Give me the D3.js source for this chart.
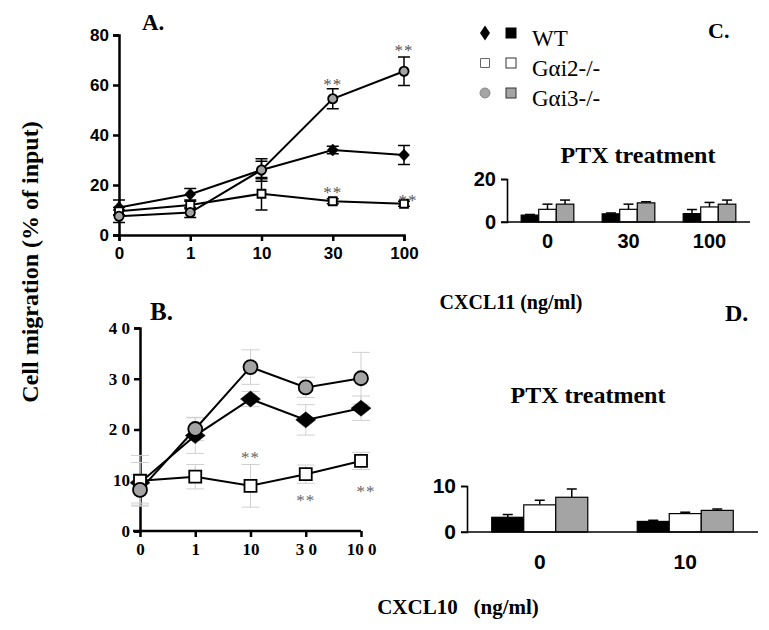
<!DOCTYPE html>
<html>
<head>
<meta charset="utf-8">
<script src="https://cdn.jsdelivr.net/npm/d3@7"></script>
<style>
  body { margin: 0; background: #fff; }
  svg { display: block; }
  .serif { font-family: "Liberation Serif", "DejaVu Serif", serif; font-weight: bold; }
  .sans { font-family: "Liberation Sans", Arial, sans-serif; font-weight: bold; }
</style>
</head>
<body>
<svg id="chart" width="769" height="630"></svg>
<script>
// ---- data ----
const doses = ["0", "1", "10", "30", "100"];
const genotypes = ["WT", "Gαi2-/-", "Gαi3-/-"];
const colors = ["#000000", "#ffffff", "#a4a4a4"];

// panel A: CXCL11
const aWT = [11, 16.3, 26, 34, 32];
const aWTErr = [3, 2.3, 3.5, 1.5, 3.8];
const aI2 = [9.5, 12, 16.5, 13.5, 12.5];
const aI2Err = [1.5, 1.5, 6.5, 1, 1];
const aI3 = [7.5, 9, 26, 54.5, 65.5];
const aI3Err = [2.5, 2, 4.5, 4, 5.7];
const aYTicks = [0, 20, 40, 60, 80];
const aStars = [{ dose: "30", v: 62 }, { dose: "100", v: 75.6 }, { dose: "30", v: 18.8 }, { dose: "100", v: 15.6, dx: 4 }];

// panel B: CXCL10
const bWT = [9.5, 18.8, 26, 21.9, 24.2];
const bWTErr = [4, 3.5, 1.5, 3, 2.4];
const bI2 = [9.9, 10.7, 8.9, 11.2, 13.8];
const bI2Err = [5, 2.4, 4.2, 1.8, 1.7];
const bI3 = [8.1, 20.1, 32.3, 28.3, 30.1];
const bI3Err = [3, 2.3, 3.4, 2, 5.1];
const bYTicks = [0, 10, 20, 30, 40];
const bYLabels = ["0", "10", "2 0", "3 0", "4 0"];
const bXLabels = ["0", "1", "10", "3 0", "10 0"];
const bStars = [{ dose: "10", v: 15.4 }, { dose: "30", v: 6.9 }, { dose: "100", v: 8.7, dx: 5 }];

// panel C: PTX, CXCL11
const cGroups = ["0", "30", "100"];
const cWT = [3.2, 3.8, 3.9];
const cWTErr = [0.3, 0.4, 1.9];
const cI2 = [5.9, 5.9, 7.0];
const cI2Err = [2.4, 2.4, 2.1];
const cI3 = [8.3, 8.9, 8.3];
const cI3Err = [1.9, 0.5, 1.9];

// panel D: PTX, CXCL10
const dGroups = ["0", "10"];
const dWT = [3.2, 2.3];
const dWTErr = [0.6, 0.25];
const dI2 = [5.9, 4.0];
const dI2Err = [1.0, 0.3];
const dI3 = [7.55, 4.7];
const dI3Err = [1.8, 0.3];

const svg = d3.select("#chart");

function diamond(w, h) {
  return `M0,${-h / 2}L${w / 2},0L0,${h / 2}L${-w / 2},0Z`;
}

// ---- line panels ----
function linePanel(opt) {
  const g = svg.append("g");
  const x = d3.scalePoint().domain(doses).range(opt.xRange);
  const y = d3.scaleLinear().domain(opt.yDomain).range(opt.yRange);

  const series = [
    { vals: opt.wt, err: opt.wtErr, shape: "diamond", fill: "#000" },
    { vals: opt.i2, err: opt.i2Err, shape: "square", fill: "#fff" },
    { vals: opt.i3, err: opt.i3Err, shape: "circle", fill: colors[2] }
  ];

  // axes
  const yAxis = g.append("g")
    .attr("transform", `translate(${opt.xRange[0]},0)`)
    .call(d3.axisLeft(y).tickValues(opt.yTicks).tickSize(6).tickPadding(4)
      .tickFormat((d, i) => opt.yLabels ? opt.yLabels[i] : d));
  const xAxis = g.append("g")
    .attr("transform", `translate(0,${opt.yRange[0]})`)
    .call(d3.axisBottom(x).tickSize(6).tickPadding(6)
      .tickFormat((d, i) => opt.xLabels ? opt.xLabels[i] : d));
  [xAxis, yAxis].forEach(a => {
    a.select(".domain").attr("stroke-width", 2.5).attr("stroke", "#000");
    a.selectAll(".tick line").attr("stroke-width", 2.5);
    a.selectAll("text").attr("class", opt.tickClass).attr("font-size", opt.tickSize).attr("fill", "#000");
  });
  if (opt.axisExt) {
    xAxis.select(".domain").attr("d", `M${opt.xRange[0] - opt.axisExt},0H${opt.xRange[1]}`);
  }

  // error bars
  series.forEach(s => {
    s.vals.forEach((v, i) => {
      const cx = x(doses[i]);
      const eg = g.append("g").attr("stroke", opt.errColor).attr("stroke-width", opt.errWidth);
      eg.append("line").attr("x1", cx).attr("x2", cx).attr("y1", y(v - s.err[i])).attr("y2", y(v + s.err[i]));
      [v - s.err[i], v + s.err[i]].forEach(e => {
        eg.append("line").attr("x1", cx - opt.cap).attr("x2", cx + opt.cap).attr("y1", y(e)).attr("y2", y(e));
      });
    });
  });

  // lines
  const line = d3.line().x((d, i) => x(doses[i])).y(d => y(d));
  series.forEach(s => {
    g.append("path").datum(s.vals).attr("d", line)
      .attr("fill", "none").attr("stroke", "#000").attr("stroke-width", 2);
  });

  // markers
  series.forEach(s => {
    g.selectAll(null).data(s.vals).join("path")
      .attr("transform", (d, i) => `translate(${x(doses[i])},${y(d)})`)
      .attr("d", () => {
        if (s.shape === "diamond") return diamond(opt.dia[0], opt.dia[1]);
        if (s.shape === "square") return d3.symbol(d3.symbolSquare, opt.sq * opt.sq)();
        return d3.symbol(d3.symbolCircle, Math.PI * opt.rad * opt.rad)();
      })
      .attr("fill", s.fill).attr("stroke", "#000").attr("stroke-width", s.shape === "diamond" ? 0.5 : 1.8);
  });

  // significance stars
  g.selectAll(null).data(opt.stars).join("text")
    .attr("x", d => x(d.dose) + (d.dx || 0))
    .attr("y", d => y(d.v))
    .attr("dy", "0.6em")
    .attr("text-anchor", "middle")
    .attr("font-family", "Liberation Serif, serif")
    .attr("font-size", 17)
    .attr("letter-spacing", 1)
    .attr("fill", opt.starColor)
    .text("**");
}

linePanel({
  xRange: [119, 404], yDomain: [0, 80], yRange: [235, 35],
  wt: aWT, wtErr: aWTErr, i2: aI2, i2Err: aI2Err, i3: aI3, i3Err: aI3Err,
  yTicks: aYTicks, tickClass: "sans", tickSize: 17,
  errColor: "#000", errWidth: 1.5, cap: 6,
  dia: [11, 12], sq: 8, rad: 4.6,
  stars: aStars, starColor: "#555"
});

linePanel({
  xRange: [140, 361], yDomain: [0, 40], yRange: [531, 328],
  wt: bWT, wtErr: bWTErr, i2: bI2, i2Err: bI2Err, i3: bI3, i3Err: bI3Err,
  yTicks: bYTicks, yLabels: bYLabels, xLabels: bXLabels, tickClass: "serif", tickSize: 17,
  errColor: "#d0d0d0", errWidth: 1, cap: 9, axisExt: 7,
  dia: [20, 16], sq: 12, rad: 7,
  stars: bStars, starColor: "#666"
});

// ---- bar panels ----
function barPanel(opt) {
  const g = svg.append("g");
  const x0 = d3.scaleBand().domain(opt.groups).range(opt.xRange).paddingInner(opt.pad).paddingOuter(opt.pad / 2);
  const x1 = d3.scaleBand().domain(genotypes).range([0, x0.bandwidth()]);
  const y = d3.scaleLinear().domain(opt.yDomain).range(opt.yRange);
  const rows = [[opt.wt, opt.wtErr], [opt.i2, opt.i2Err], [opt.i3, opt.i3Err]];

  opt.groups.forEach((grp, gi) => {
    genotypes.forEach((gen, si) => {
      const v = rows[si][0][gi], e = rows[si][1][gi];
      const bx = x0(grp) + x1(gen);
      const cx = bx + x1.bandwidth() / 2;
      g.append("line").attr("x1", cx).attr("x2", cx).attr("y1", y(v)).attr("y2", y(v + e))
        .attr("stroke", "#000").attr("stroke-width", 1.5);
      g.append("line").attr("x1", cx - opt.cap).attr("x2", cx + opt.cap).attr("y1", y(v + e)).attr("y2", y(v + e))
        .attr("stroke", "#000").attr("stroke-width", 1.5);
      g.append("rect").attr("x", bx).attr("y", y(v)).attr("width", x1.bandwidth()).attr("height", y(0) - y(v))
        .attr("fill", colors[si]).attr("stroke", "#000").attr("stroke-width", 1.2);
    });
  });

  const yAxis = g.append("g").attr("transform", `translate(${opt.xRange[0]},0)`)
    .call(d3.axisLeft(y).tickValues(opt.yTicks).tickSize(6).tickPadding(5));
  const xAxis = g.append("g").attr("transform", `translate(0,${opt.yRange[0]})`)
    .call(d3.axisBottom(x0).tickSize(0).tickPadding(opt.xPad));
  xAxis.select(".domain").attr("d", `M${opt.xRange[0] - 6},0H${opt.xRange[1]}`);
  [xAxis, yAxis].forEach(a => {
    a.select(".domain").attr("stroke-width", 1.6).attr("stroke", "#000");
    a.selectAll(".tick line").attr("stroke-width", 1.6);
    a.selectAll("text").attr("class", "sans").attr("font-size", opt.tickSize).attr("fill", "#000");
  });
  yAxis.selectAll(".tick").filter(d => d === 0).select("line").remove();

  g.append("text").attr("class", "serif").attr("font-size", 24)
    .attr("x", opt.titlePos[0]).attr("y", opt.titlePos[1]).attr("text-anchor", "middle")
    .text("PTX treatment");
}

barPanel({
  groups: cGroups, xRange: [507, 750], pad: 0.35, yDomain: [0, 20], yRange: [222, 179],
  wt: cWT, wtErr: cWTErr, i2: cI2, i2Err: cI2Err, i3: cI3, i3Err: cI3Err,
  yTicks: [0, 20], tickSize: 20, xPad: 12, cap: 5, titlePos: [638, 163]
});

barPanel({
  groups: dGroups, xRange: [467, 758], pad: 0.34, yDomain: [0, 10], yRange: [532, 486],
  wt: dWT, wtErr: dWTErr, i2: dI2, i2Err: dI2Err, i3: dI3, i3Err: dI3Err,
  yTicks: [0, 10], tickSize: 21, xPad: 22, cap: 5, titlePos: [588, 403]
});

// ---- legend ----
const legend = svg.append("g").attr("transform", "translate(485,0)");
const legY = [33, 63, 93];
legend.append("path").attr("transform", `translate(0,${legY[0]})`).attr("d", diamond(10, 15)).attr("fill", "#000");
legend.append("path").attr("transform", `translate(0,${legY[1]})`).attr("d", d3.symbol(d3.symbolSquare, 81)())
  .attr("fill", "#fff").attr("stroke", "#666").attr("stroke-width", 1);
legend.append("path").attr("transform", `translate(0,${legY[2]})`).attr("d", d3.symbol(d3.symbolCircle, 78)())
  .attr("fill", colors[2]).attr("stroke", "#888").attr("stroke-width", 1);
genotypes.forEach((gen, i) => {
  legend.append("rect").attr("x", 21).attr("y", legY[i] - 5).attr("width", 10).attr("height", 10)
    .attr("fill", colors[i]).attr("stroke", i === 0 ? "#000" : "#333").attr("stroke-width", 1);
  legend.append("text").attr("x", 47).attr("y", legY[i] + 13)
    .attr("font-family", "Liberation Serif, serif").attr("font-size", 23)
    .text(gen);
});

// ---- titles & axis labels ----
const labels = [
  { t: "A.", x: 142, y: 30, s: 23, a: "start" },
  { t: "B.", x: 150, y: 320, s: 25, a: "start" },
  { t: "C.", x: 708, y: 38, s: 22, a: "start" },
  { t: "D.", x: 725, y: 321, s: 24, a: "start" },
  { t: "CXCL11 (ng/ml)", x: 511, y: 309, s: 20, a: "middle" },
  { t: "CXCL10   (ng/ml)", x: 458, y: 614, s: 21, a: "middle" }
];
labels.forEach(l => {
  svg.append("text").attr("class", "serif").attr("x", l.x).attr("y", l.y)
    .attr("font-size", l.s).attr("text-anchor", l.a).attr("xml:space", "preserve").text(l.t);
});
svg.append("text").attr("class", "serif").attr("font-size", 24)
  .attr("transform", "translate(38,262) rotate(-90)").attr("text-anchor", "middle")
  .text("Cell migration (% of input)");
</script>
</body>
</html>
